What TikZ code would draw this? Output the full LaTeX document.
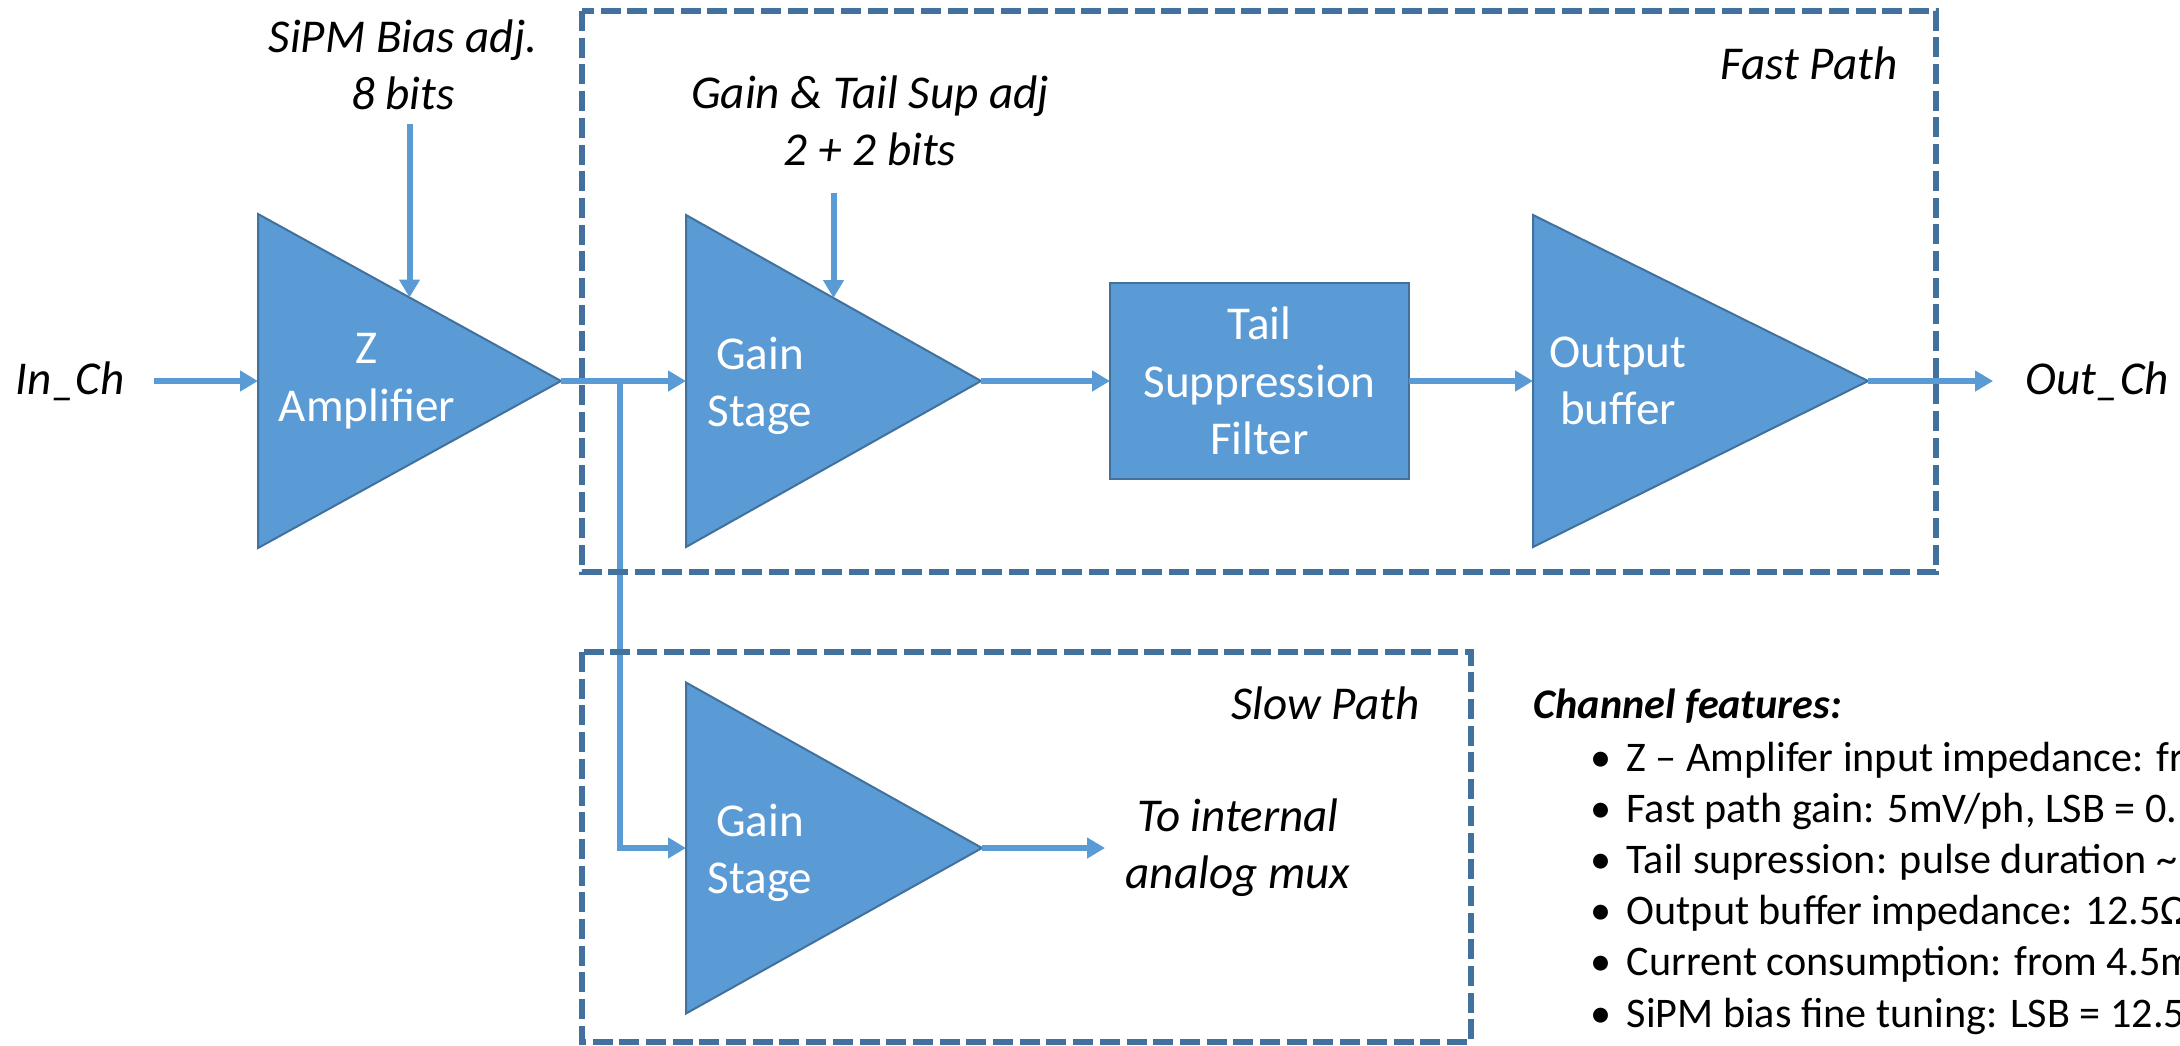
\documentclass[tikz,border=0pt]{standalone}
\usepackage{fontspec}
\setmainfont{Carlito}
\usepackage{tikz}
\usetikzlibrary{positioning}
\usetikzlibrary{arrows.meta}
\usetikzlibrary{shapes,calc}
\definecolor{myblue}{HTML}{5B9BD5}
\definecolor{mydarkblue}{HTML}{41719C}
\tikzset{amp node/.style={isosceles triangle,isosceles triangle stretches,shape border rotate=0,fill=myblue,draw=mydarkblue,line width=0.02cm,inner sep=0pt,outer sep=0pt,anchor=west},
	block node/.style={rectangle,fill=myblue,draw=mydarkblue,line width=0.025cm,text=white,align=center,inner sep=0pt,outer sep=0pt,font=\fontsize{13.4}{16.4}\selectfont},
	inner text/.style={text=white,align=center,inner sep=0pt,font=\fontsize{13.4}{16.4}\selectfont},
	label node/.style={align=center,inner sep=0.14cm,font=\itshape\fontsize{13.4}{16.2}\selectfont},
	feat text/.style={anchor=base west,inner sep=0pt,font=\fontsize{12}{14.5}\selectfont},
	path box/.style={draw=mydarkblue,line width=0.053cm,dash pattern=on 0.2cm off 0.067cm},
	signal/.style={draw=myblue,line width=0.06cm},}

\begin{document}
\begin{tikzpicture}[->, >={Triangle[length=0.18cm,width=0.2cm]}, node distance=1.25cm]
	\useasboundingbox (0,0) rectangle (21.8,-10.45);
	% amplifier chain (minimum height = length, minimum width = base)
	\node[amp node, minimum height=3.03cm, minimum width=3.34cm] (zamp) at (2.58,-3.81) {};
	\node[amp node, minimum height=2.95cm, minimum width=3.32cm] (gain1) [right = 1.25cm of zamp.apex] {};
	\node[block node, minimum width=2.99cm, minimum height=1.96cm] (tail) [right = 1.29cm of gain1.apex] {Tail\\Suppression\\Filter};
	\node[amp node, minimum height=3.35cm, minimum width=3.32cm] (outbuf) [right = 1.24cm of tail] {};
	\node[amp node, minimum height=2.96cm, minimum width=3.31cm] (gain2) at (6.86,-8.48) {};

	\node[inner text] (zamptxt) at ($(zamp.west)+(1.09,0)$) {Z\\Amplifier};
	\node[inner text] (gain1txt) at ($(gain1.west)+(0.74,-0.05)$) {Gain\\Stage};
	\node[inner text] (outbuftxt) at ($(outbuf.west)+(0.85,0)$) {Output\\buffer};
	\node[inner text] (gain2txt) at ($(gain2.west)+(0.74,-0.05)$) {Gain\\Stage};

	% signal names and settings
	\node[label node, inner xsep=0.29cm] (inch) [left = 1.04cm of zamp.west] {In\_Ch};
	\node[label node, inner xsep=0.32cm] (outch) [right = 1.25cm of outbuf.apex] {Out\_Ch};
	\node[label node] (biaslbl) at (4.03,-0.645) {SiPM Bias adj.\\8 bits};
	\node[label node, inner sep=0.27cm] (gainlbl) at (8.70,-1.205) {Gain \& Tail Sup adj\\2 + 2 bits};
	\node[label node, inner xsep=0.2cm] (muxlbl) [right = 1.23cm of gain2.apex] {To internal\\analog mux};
	\node[label node, anchor=base east, inner sep=0pt] (fastlbl) at (18.98,-0.79) {Fast Path};
	\node[label node, anchor=base east, inner sep=0pt] (slowlbl) at (14.20,-7.19) {Slow Path};

	\coordinate[right = 0.59cm of zamp.apex] (split);
	\path
	(inch) edge[signal] (zamp.west)
	(zamp.apex) edge[signal] (gain1.west)
	(gain1.apex) edge[signal] (tail)
	(tail) edge[signal] (outbuf.west)
	(outbuf.apex) edge[signal] (outch)
	(gain2.apex) edge[signal] (muxlbl)
	(biaslbl.south -| zamp.left side) edge[signal] (zamp.left side)
	(gainlbl.south -| gain1.left side) edge[signal] (gain1.left side);
	\draw[signal] (split) |- (gain2.west);

	% fast and slow path frames
	\draw[path box, -] (5.82,-0.11) rectangle (19.36,-5.72);
	\draw[path box, -] (5.82,-6.52) rectangle (14.71,-10.42);

	% feature list
	\node[feat text, font=\bfseries\itshape\fontsize{12}{14.5}\selectfont] (feathead) at (15.33,-7.18) {Channel features:};
	\foreach \txt [count=\k] in {{Z – Amplifer input impedance: fr},
		{Fast path gain: 5mV/ph, LSB = 0.},
		{Tail supression: pulse duration \textasciitilde},
		{Output buffer impedance: 12.5Ω},
		{Current consumption: from 4.5m},
		{SiPM bias fine tuning: LSB = 12.5}}
		\node[feat text] (feat\k) at (15.90,{-7.71-0.512*(\k-1)}) {\makebox[0.36cm][l]{\textbullet}\txt};
\end{tikzpicture}
\end{document}
